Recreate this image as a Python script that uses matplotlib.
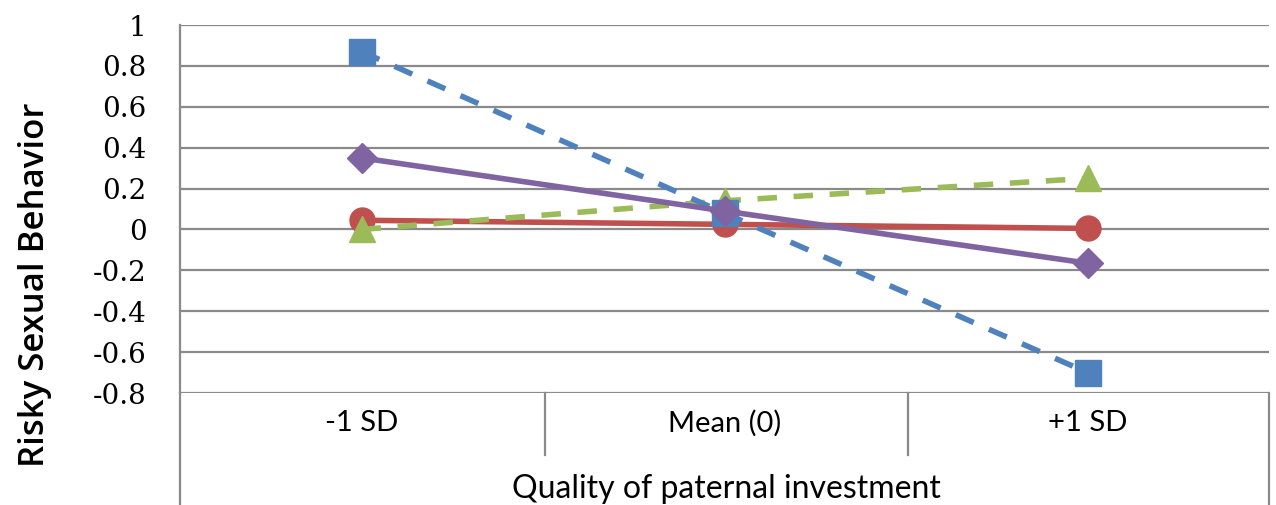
import matplotlib.pyplot as plt
from matplotlib.lines import Line2D

categories = ["-1 SD", "Mean (0)", "+1 SD"]
y_ticks = [1, 0.8, 0.6, 0.4, 0.2, 0, -0.2, -0.4, -0.6, -0.8]
y_tick_labels = ["1", "0.8", "0.6", "0.4", "0.2", "0", "-0.2", "-0.4", "-0.6", "-0.8"]

blue_sq = [0.87, 0.08, -0.70]
red_circ = [0.045, 0.025, 0.005]
green_tri = [0.0, 0.14, 0.25]
purple_dia = [0.35, 0.09, -0.165]

W, H = 1276, 505
fig = plt.figure(figsize=(W / 100, H / 100), dpi=100)
fig.patch.set_facecolor("white")

# plot area in pixels: x 180..1269, y 25..393
left, right, top, bottom = 180, 1269, 25, 393
ax = fig.add_axes([left / W, 1 - bottom / H, (right - left) / W, (bottom - top) / H])

grid_c = "#8a8a8a"
x = range(len(categories))

# red, green, blue, purple stacking (blue square sits over red circle)
ax.plot(x, red_circ, color="#C0504D", lw=4, marker="o", ms=18, zorder=3)
ax.plot(x, green_tri, color="#9BBB59", lw=4, ls=(0, (3.5, 3.0)), marker="^", ms=19, zorder=4)
ax.plot(x, blue_sq, color="#4F81BD", lw=4, ls=(0, (3.5, 3.0)), marker="s", ms=19, zorder=5)
ax.plot(x, purple_dia, color="#8064A2", lw=4, marker="D", ms=15, zorder=6)

ax.set_xlim(-0.5, 2.5)
ax.set_ylim(-0.8, 1.0)
ax.set_yticks(y_ticks)
ax.set_yticklabels(y_tick_labels, family="DejaVu Serif", fontsize=20)
ax.set_xticks(list(x))
ax.set_xticklabels(categories, family="Lato", fontsize=21)
ax.tick_params(axis="y", length=0, pad=24)
ax.tick_params(axis="x", length=0, pad=12)

for v in y_ticks:
    ax.axhline(v, color=grid_c, lw=1.6, zorder=1)

for s in ["top", "right", "bottom"]:
    ax.spines[s].set_visible(False)
ax.spines["left"].set_color(grid_c)
ax.spines["left"].set_linewidth(1.6)

# category box below the plot area
def vline(px, y0, y1):
    fig.add_artist(Line2D([px / W, px / W], [1 - y0 / H, 1 - y1 / H],
                          color=grid_c, lw=1.6))

vline(left, bottom, H)
vline(right, bottom, H)
vline(545, bottom, 455)
vline(908, bottom, 455)

fig.text(726 / W, 1 - 489 / H, "Quality of paternal investment", family="Lato",
         fontsize=23, ha="center", va="center")
fig.text(35 / W, 1 - 285 / H, "Risky Sexual Behavior", family="Open Sans",
         fontsize=25, fontweight="semibold", rotation=90, ha="center", va="center")

fig.savefig("out.png", dpi=100)
